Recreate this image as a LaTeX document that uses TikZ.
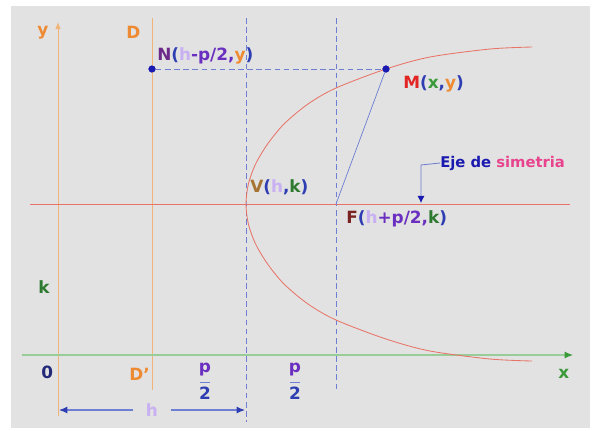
\documentclass[tikz,border=0pt]{standalone}
\usepackage{xcolor}
\usepackage{fontspec}
\setmainfont{DejaVu Sans}
\usepackage{tikz}
\usetikzlibrary{arrows.meta,positioning}

\definecolor{panel}{HTML}{E2E2E2}
\definecolor{axorange}{HTML}{F0B478}
\definecolor{lblorange}{HTML}{EE8A32}
\definecolor{symred}{HTML}{E87468}
\definecolor{xgreen}{HTML}{98CC98}
\definecolor{arrgreen}{HTML}{3A9A3A}
\definecolor{guideblue}{HTML}{6E7ED2}
\definecolor{dotblue}{HTML}{1A1AB0}
\definecolor{parblue}{HTML}{2E3EB2}
\definecolor{hlav}{HTML}{C8B0F2}
\definecolor{ppurple}{HTML}{6A2FC0}
\definecolor{npurple}{HTML}{6B2A8A}
\definecolor{mred}{HTML}{E22424}
\definecolor{kgreen}{HTML}{2E7A30}
\definecolor{vbrown}{HTML}{A57434}
\definecolor{fred}{HTML}{7A2222}
\definecolor{zeronavy}{HTML}{22287A}
\definecolor{ejepink}{HTML}{E8448E}

\newcommand{\pfrac}{\begin{tabular}{@{}c@{}}\textcolor{ppurple}{p}\\[-4pt]\textcolor{guideblue}{\rule[3pt]{7pt}{0.5pt}}\\[-5pt]\textcolor{parblue}{2}\end{tabular}}

\begin{document}
\begin{tikzpicture}[
  x=0.025cm,y=-0.025cm,
  font=\fontsize{12}{14}\selectfont\bfseries,
  ax/.style={draw=axorange,line width=0.6pt},
  guide/.style={draw=guideblue,line width=0.5pt,dash pattern=on 4pt off 2.5pt},
  dot/.style={circle,fill=dotblue,inner sep=0pt,minimum size=5pt},
  lbl/.style={inner sep=0pt,anchor=west},
  arr/.style={-{Latex[length=5pt,width=4pt]}}
]
  \useasboundingbox (0,0) rectangle (592,430);
  \fill[panel] (11,6) rectangle (590,428);

  % points of the figure
  \node[dot] (N) at (152,69) {};
  \node[dot] (M) at (386,69) {};
  \coordinate (V) at (246,204);
  \coordinate (F) at (336,204);

  % axes and directrix
  \coordinate (ybot) at (58,416);
  \coordinate (ytop) at (58,22);
  \coordinate (xlft) at (22,355);
  \coordinate (xrgt) at (573,355);
  \coordinate (Dtop) at (152,18);
  \coordinate (Dbot) at (152,390);
  \coordinate (symL) at (30,204);
  \coordinate (symR) at (570,204);
  \draw[ax,-{Latex[length=5pt,width=4pt,fill=axorange]}] (ybot) -- (ytop);
  \draw[ax] (Dtop) -- (Dbot);
  \draw[draw=xgreen,line width=0.8pt,-{Latex[length=6pt,width=5pt,color=arrgreen]}] (xlft) -- (xrgt);
  \draw[draw=symred,line width=0.6pt] (symL) -- (symR);

  % dashed guides through V and F
  \draw[guide] (246,18) -- (V) -- (246,422);
  \draw[guide] (336,18) -- (F) -- (336,390);
  \draw[guide] (N) -- (M);
  \draw[draw=guideblue,line width=0.5pt] (M) -- (F);

  % parabola
  \draw[draw=symred,line width=0.6pt] plot[smooth] coordinates {
    (532,47) (490,49) (430,57) (386,69) (336,88) (308,104) (284,124) (267.6,144) (255.6,164) (248.4,184)
    (246,204)
    (248.4,224) (255.6,244) (267.6,264) (284,284) (308,304) (336,320) (386,339) (430,351) (490,359) (532,361)};
  \node[dot] at (N) {};
  \node[dot] at (M) {};

  % labels
  \node[lbl,text=lblorange] (ylbl) at (37,33) {y};
  \node[lbl,text=lblorange] (Dlbl) at (126,32) {D};
  \node[lbl,text=lblorange] (D2lbl) at (129,374) {D'};
  \node[lbl,text=arrgreen] (xlbl) at (558,374) {x};
  \node[lbl,text=kgreen] (klbl) at (38,287) {k};
  \node[lbl,text=zeronavy] (zlbl) at (41,372) {0};
  \node[lbl] (Nlbl) at (157,56) {\textcolor{npurple}{N}\textcolor{parblue}{(}\textcolor{hlav}{h}\textcolor{ppurple}{-p/2,}\textcolor{lblorange}{y}\textcolor{parblue}{)}};
  \node[lbl] (Mlbl) at (403,84) {\textcolor{mred}{M}\textcolor{parblue}{(}\textcolor{arrgreen}{x}\textcolor{parblue}{,}\textcolor{lblorange}{y}\textcolor{parblue}{)}};
  \node[lbl] (Vlbl) at (250,187) {\textcolor{vbrown}{V}\textcolor{parblue}{(}\textcolor{hlav}{h}\textcolor{parblue}{,}\textcolor{kgreen}{k}\textcolor{parblue}{)}};
  \node[lbl] (Flbl) at (346,219) {\textcolor{fred}{F}\textcolor{parblue}{(}\textcolor{hlav}{h}\textcolor{ppurple}{+p/2,}\textcolor{kgreen}{k}\textcolor{parblue}{)}};
  \node[lbl,font=\fontsize{10.5}{12}\selectfont\bfseries] (eje) at (440,163) {\textcolor{dotblue}{Eje de} \textcolor{ejepink}{simetria}};
  \node[inner sep=0pt] (pf1) at (205,382) {\pfrac};
  \node[inner sep=0pt] (pf2) at (295,382) {\pfrac};

  % pointer to the axis
  \coordinate (ejeknee) at (421,165);
  \coordinate (ejetip) at (421,203);
  \draw[draw=guideblue,line width=0.6pt,-{Latex[length=5pt,width=5pt,color=dotblue]}] (eje.west) -- (ejeknee) -- (ejetip);

  % distance h
  \node[text=hlav,inner sep=0pt,minimum width=26pt] (hlbl) at (152,410) {h};
  \coordinate (hL) at (59,412);
  \coordinate (hR) at (245,412);
  \draw[draw=guideblue,line width=0.8pt,-{Latex[length=6pt,width=5pt,color=parblue]}] (hlbl.west) -- (hlbl.west -| hL);
  \draw[draw=guideblue,line width=0.8pt,-{Latex[length=6pt,width=5pt,color=parblue]}] (hlbl.east) -- (hlbl.east -| hR);
\end{tikzpicture}
\end{document}
